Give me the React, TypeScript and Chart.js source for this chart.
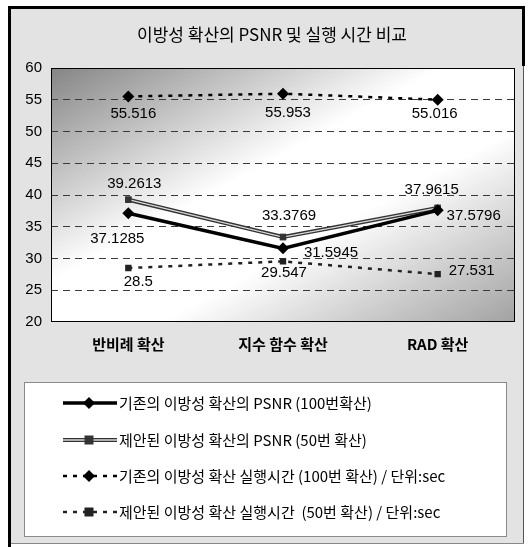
import React, { useEffect, useRef } from "react";
import { Chart, registerables } from "chart.js";

Chart.register(...registerables);

const chartTitle = "이방성 확산의 PSNR 및 실행 시간 비교";
const categories = ["반비례 확산", "지수 함수 확산", "RAD 확산"];
const psnrOld = [37.1285, 31.5945, 37.5796];
const psnrNew = [39.2613, 33.3769, 37.9615];
const timeOld = [55.516, 55.953, 55.016];
const timeNew = [28.5, 29.547, 27.531];
const seriesNames = [
  "기존의 이방성 확산의 PSNR (100번확산)",
  "제안된 이방성 확산의 PSNR (50번 확산)",
  "기존의 이방성 확산 실행시간 (100번 확산) / 단위:sec",
  "제안된 이방성 확산 실행시간  (50번 확산) / 단위:sec",
];
const yMin = 20;
const yMax = 60;
const yStep = 5;

// label offsets (style only): [dx, dy] per dataset per point
const labelOffsets = [
  [[-11, 26], [48, 4], [36, 5]],
  [[6, -16], [6, -21], [-6, -18]],
  [[5, 17], [5, 19], [-3, 14]],
  [[10, 14], [1, 11], [34, -3]],
];

const KR = "'Noto Sans CJK KR', 'Noto Sans', sans-serif";
const NUM = "'Liberation Sans', Arial, sans-serif";

const styles = [
  { color: "#000000", width: 3.5, dash: [] as number[], point: "rectRot", radius: 6, hollow: false },
  { color: "#333333", width: 4, dash: [] as number[], point: "rect", radius: 4.5, hollow: true },
  { color: "#000000", width: 2.5, dash: [4, 6], point: "rectRot", radius: 6, hollow: false },
  { color: "#222222", width: 2.5, dash: [4, 6], point: "rect", radius: 4.5, hollow: false },
];

function drawMarker(ctx: CanvasRenderingContext2D, kind: string, x: number, y: number, r: number, color: string) {
  ctx.save();
  ctx.setLineDash([]);
  ctx.fillStyle = color;
  ctx.beginPath();
  if (kind === "rectRot") {
    ctx.moveTo(x, y - r);
    ctx.lineTo(x + r, y);
    ctx.lineTo(x, y + r);
    ctx.lineTo(x - r, y);
    ctx.closePath();
  } else {
    ctx.rect(x - r, y - r, 2 * r, 2 * r);
  }
  ctx.fill();
  ctx.restore();
}

const decorPlugin = {
  id: "decor",
  beforeDraw(chart: any) {
    const { ctx, chartArea: a, width, height } = chart;
    ctx.save();
    ctx.fillStyle = "#ffffff";
    ctx.fillRect(0, 0, width, height);
    ctx.fillStyle = "#e3e3e3";
    ctx.fillRect(9, 7, 515, 537);
    ctx.save();
    ctx.translate(a.left, a.top);
    ctx.scale(a.right - a.left, a.bottom - a.top);
    const g = ctx.createLinearGradient(0, 0, 1, 1);
    g.addColorStop(0, "#858585");
    g.addColorStop(0.42, "#ffffff");
    g.addColorStop(0.62, "#ffffff");
    g.addColorStop(1, "#a2a2a2");
    ctx.fillStyle = g;
    ctx.fillRect(0, 0, 1, 1);
    ctx.restore();
    ctx.restore();
  },
  afterDatasetDraw(chart: any, args: any) {
    const i = args.index;
    if (!styles[i].hollow) return;
    const meta = chart.getDatasetMeta(i);
    const ctx = chart.ctx;
    ctx.save();
    ctx.strokeStyle = "#d8d8d8";
    ctx.lineWidth = 1.3;
    ctx.beginPath();
    meta.data.forEach((p: any, k: number) => {
      if (k === 0) ctx.moveTo(p.x, p.y);
      else ctx.lineTo(p.x, p.y);
    });
    ctx.stroke();
    ctx.restore();
    meta.data.forEach((p: any) => p.draw(ctx, chart.chartArea));
  },
  afterDatasetsDraw(chart: any) {
    const ctx = chart.ctx;
    ctx.save();
    ctx.fillStyle = "#000";
    ctx.font = `15px ${NUM}`;
    ctx.textAlign = "center";
    ctx.textBaseline = "middle";
    chart.data.datasets.forEach((ds: any, i: number) => {
      const meta = chart.getDatasetMeta(i);
      meta.data.forEach((p: any, k: number) => {
        const [dx, dy] = labelOffsets[i][k];
        ctx.fillText(String(ds.data[k]), p.x + dx, p.y + dy);
      });
    });
    ctx.restore();
  },
  afterDraw(chart: any) {
    const { ctx, chartArea: a } = chart;
    ctx.save();
    ctx.strokeStyle = "#000";
    ctx.lineWidth = 1;
    ctx.setLineDash([]);
    ctx.strokeRect(a.left + 0.5, a.top + 0.5, a.right - a.left - 1, a.bottom - a.top - 1);
    ctx.fillStyle = "#000";
    ctx.fillRect(8, 6, 3, 541);
    ctx.fillRect(8, 6, 517, 3);
    ctx.fillRect(522, 6, 3, 60);
    ctx.fillStyle = "#555";
    ctx.fillRect(523, 66, 1, 478);
    ctx.fillStyle = "#888";
    ctx.fillRect(11, 543, 513, 1);
    ctx.fillStyle = "#000";
    ctx.font = `17px ${KR}`;
    ctx.textAlign = "center";
    ctx.textBaseline = "middle";
    ctx.fillText(chartTitle, 272, 35);
    ctx.fillStyle = "#ffffff";
    ctx.fillRect(24, 382, 483, 155);
    ctx.strokeStyle = "#8a8a8a";
    ctx.strokeRect(24.5, 382.5, 482, 154);
    const ys = [403, 440, 476, 512];
    ctx.font = `15px ${KR}`;
    ctx.textAlign = "left";
    styles.forEach((s, i) => {
      const y = ys[i];
      ctx.save();
      ctx.strokeStyle = s.color;
      ctx.lineWidth = s.width;
      ctx.setLineDash(s.dash);
      ctx.beginPath();
      ctx.moveTo(63, y);
      ctx.lineTo(117, y);
      ctx.stroke();
      if (s.hollow) {
        ctx.strokeStyle = "#d8d8d8";
        ctx.lineWidth = 1.3;
        ctx.beginPath();
        ctx.moveTo(63, y);
        ctx.lineTo(117, y);
        ctx.stroke();
      }
      ctx.restore();
      drawMarker(ctx, s.point, 89, y, s.radius, s.color);
      ctx.fillStyle = "#000";
      ctx.fillText(seriesNames[i], 119, y);
    });
    ctx.restore();
  },
};

export default function App() {
  const ref = useRef<HTMLCanvasElement | null>(null);
  useEffect(() => {
    document.body.style.margin = "0";
    const canvas = ref.current!;
    const datasets = [psnrOld, psnrNew, timeOld, timeNew].map((d, i) => ({
      label: seriesNames[i],
      data: d,
      borderColor: styles[i].color,
      backgroundColor: styles[i].color,
      borderWidth: styles[i].width,
      borderDash: styles[i].dash,
      pointStyle: styles[i].point,
      pointRadius: styles[i].radius,
      pointBorderWidth: 0,
      pointBackgroundColor: styles[i].color,
      tension: 0,
      fill: false,
    }));
    const chart = new Chart(canvas, {
      type: "line",
      data: { labels: categories, datasets },
      options: {
        responsive: false,
        animation: false,
        devicePixelRatio: 1,
        layout: { padding: { left: 0, top: 68, right: 14, bottom: 175 } },
        plugins: { legend: { display: false }, title: { display: false }, tooltip: { enabled: false } },
        scales: {
          x: {
            offset: true,
            grid: { display: false, drawTicks: false },
            border: { display: false },
            ticks: {
              color: "#000",
              padding: 13,
              font: { family: KR, size: 15, weight: "bold" },
            },
            afterFit: (s: any) => {
              s.height = 50;
            },
          },
          y: {
            min: yMin,
            max: yMax,
            grid: {
              drawTicks: false,
              color: (c: any) => (c.tick && (c.tick.value === yMin || c.tick.value === yMax) ? "rgba(0,0,0,0)" : "#3a3a3a"),
              lineWidth: 1,
            },
            border: { display: false, dash: [7, 5] },
            ticks: {
              stepSize: yStep,
              color: "#000",
              padding: 9,
              font: { family: NUM, size: 15 },
            },
            afterFit: (s: any) => {
              s.width = 51;
            },
          },
        },
      },
      plugins: [decorPlugin],
    } as any);
    return () => chart.destroy();
  }, []);
  return <canvas ref={ref} width={529} height={547} style={{ display: "block" }} />;
}
